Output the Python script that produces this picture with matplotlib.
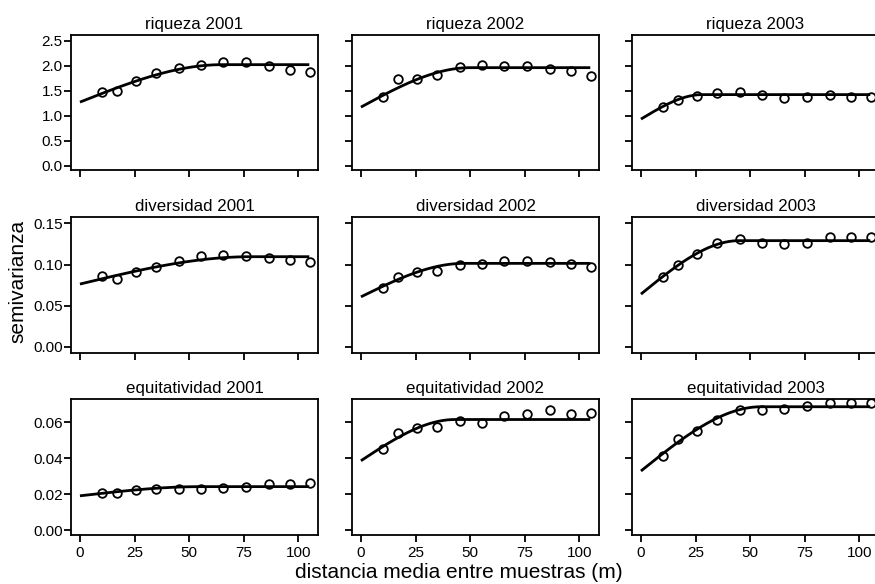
import numpy as np
import matplotlib
matplotlib.use("Agg")
import matplotlib.pyplot as plt

plt.rcParams['font.family'] = ['Liberation Sans', 'DejaVu Sans']

# mean distance between samples for each lag class (m)
distancia = [9.9, 16.8, 25.6, 35.0, 45.3, 55.3, 65.6, 76.1, 86.5, 96.2, 105.2]

# empirical semivariances
riqueza_2001 = [1.47, 1.49, 1.69, 1.85, 1.96, 2.01, 2.07, 2.08, 1.99, 1.92, 1.88]
riqueza_2002 = [1.37, 1.73, 1.73, 1.81, 1.97, 2.02, 1.99, 1.99, 1.93, 1.90, 1.79]
riqueza_2003 = [1.17, 1.31, 1.40, 1.45, 1.48, 1.41, 1.35, 1.37, 1.42, 1.38, 1.38]
diversidad_2001 = [0.086, 0.083, 0.091, 0.097, 0.104, 0.110, 0.112, 0.110, 0.108, 0.105, 0.103]
diversidad_2002 = [0.071, 0.085, 0.091, 0.092, 0.100, 0.101, 0.104, 0.104, 0.103, 0.101, 0.097]
diversidad_2003 = [0.085, 0.099, 0.113, 0.126, 0.131, 0.126, 0.125, 0.126, 0.134, 0.134, 0.133]
equitatividad_2001 = [0.0204, 0.0204, 0.0222, 0.0231, 0.0228, 0.0230, 0.0237, 0.0240, 0.0255, 0.0257, 0.0261]
equitatividad_2002 = [0.0453, 0.0538, 0.0567, 0.0576, 0.0605, 0.0597, 0.0632, 0.0647, 0.0669, 0.0647, 0.0651]
equitatividad_2003 = [0.0412, 0.0505, 0.0551, 0.0613, 0.0670, 0.0670, 0.0675, 0.0690, 0.0709, 0.0709, 0.0706]

# fitted spherical models: nugget, sill, range (m)
pepita = [1.27, 1.17, 0.93, 0.0763, 0.0608, 0.0641, 0.0191, 0.0386, 0.0329]
meseta = [2.02, 1.96, 1.42, 0.1095, 0.1014, 0.129, 0.0242, 0.0615, 0.0686]
rango = [65, 50, 28, 78, 47, 45, 55, 43, 55]

titulos = ["riqueza 2001", "riqueza 2002", "riqueza 2003",
           "diversidad 2001", "diversidad 2002", "diversidad 2003",
           "equitatividad 2001", "equitatividad 2002", "equitatividad 2003"]
series = [riqueza_2001, riqueza_2002, riqueza_2003,
          diversidad_2001, diversidad_2002, diversidad_2003,
          equitatividad_2001, equitatividad_2002, equitatividad_2003]

x_ticks = [0, 25, 50, 75, 100]
y_ticks = [[0.0, 0.5, 1.0, 1.5, 2.0, 2.5],
           [0.00, 0.05, 0.10, 0.15],
           [0.00, 0.02, 0.04, 0.06]]
y_fmt = ["{:.1f}", "{:.2f}", "{:.2f}"]
y_lims = [(-0.1, 2.614), (-0.0068, 0.1577), (-0.0024, 0.0729)]


def esferico(h, c0, c, a):
    h = np.asarray(h, dtype=float)
    r = np.clip(h / a, 0, 1)
    return c0 + (c - c0) * (1.5 * r - 0.5 * r ** 3)


W, H = 875, 584
fig = plt.figure(figsize=(W / 100, H / 100), dpi=100)

col_left = [71, 352, 632]
row_top = [35, 217, 399]
pw, ph = 247, 135.5

hh = np.linspace(0, 105, 300)

for i in range(9):
    r, c = divmod(i, 3)
    ax = fig.add_axes([col_left[c] / W, 1 - (row_top[r] + ph) / H, pw / W, ph / H])
    ax.plot(hh, esferico(hh, pepita[i], meseta[i], rango[i]), color='black', lw=2.0,
            solid_capstyle='butt', zorder=2)
    ax.plot(distancia, series[i], linestyle='none', marker='o', ms=6.2,
            mfc='none', mec='black', mew=1.3, zorder=3)
    ax.set_xlim(-4.1, 109)
    ax.set_ylim(*y_lims[r])
    ax.set_xticks(x_ticks)
    ax.set_yticks(y_ticks[r])
    if r == 2:
        ax.set_xticklabels([str(t) for t in x_ticks])
    else:
        ax.set_xticklabels([])
    if c == 0:
        ax.set_yticklabels([y_fmt[r].format(t) for t in y_ticks[r]])
    else:
        ax.set_yticklabels([])
    ax.tick_params(axis='both', direction='out', length=5, width=1.3,
                   labelsize=11, color='black')
    ax.tick_params(axis='y', pad=1)
    ax.tick_params(axis='x', pad=3)
    for s in ax.spines.values():
        s.set_linewidth(1.3)
    ax.set_title(titulos[i], fontsize=12.2, pad=4.5)

fig.text(18 / W, 1 - 281 / H, "semivarianza", rotation=90, ha='center', va='center',
         fontsize=15)
fig.text(459 / W, 1 - 572 / H, "distancia media entre muestras (m)", ha='center',
         va='center', fontsize=15)

fig.savefig("out.png", dpi=100, facecolor='white')
